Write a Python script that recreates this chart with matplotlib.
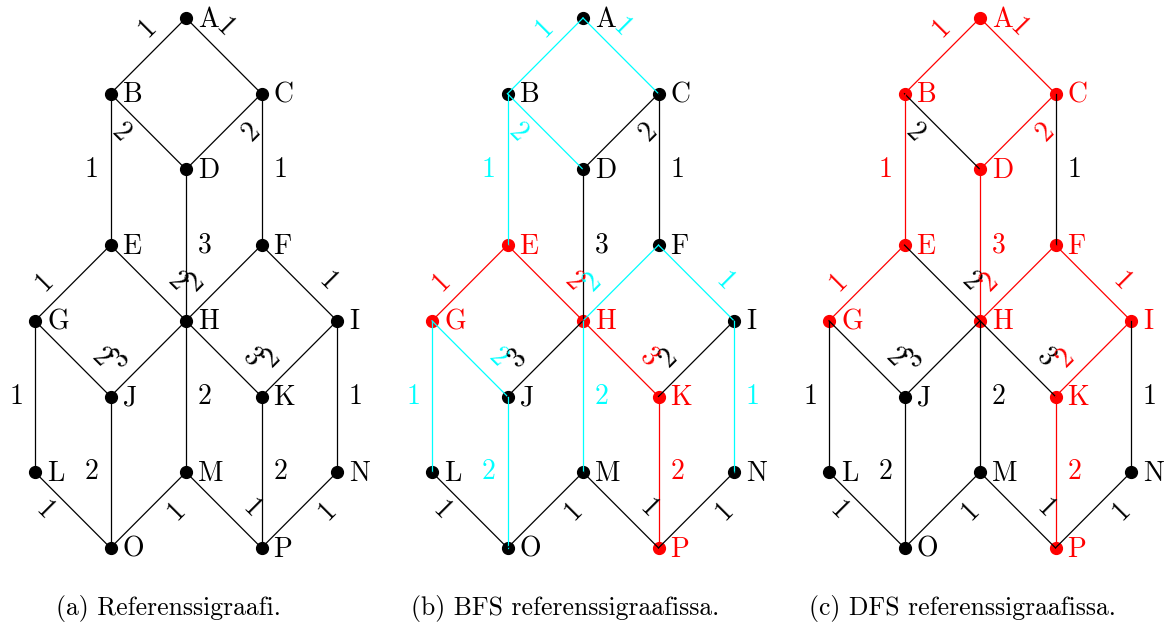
import math

import matplotlib
matplotlib.use("Agg")
import matplotlib.pyplot as plt

plt.rcParams["font.family"] = "cmr10"
plt.rcParams["axes.unicode_minus"] = False

# graph layout (grid units, y grows downward)
node_names = list("ABCDEFGHIJKLMNOP")
node_x = [2, 1, 3, 2, 1, 3, 0, 2, 4, 1, 3, 0, 2, 4, 1, 3]
node_y = [0, 1, 1, 2, 3, 3, 4, 4, 4, 5, 5, 6, 6, 6, 7, 7]

# edges: label sits near edge_from
edge_from = ["A", "A", "B", "C", "B", "C", "D", "G", "H", "H", "I", "J",
             "J", "K", "K", "G", "H", "I", "J", "K", "L", "M", "P", "N"]
edge_to = ["B", "C", "D", "D", "E", "F", "H", "E", "E", "F", "F", "G",
           "H", "H", "I", "L", "M", "N", "O", "P", "O", "O", "M", "P"]
edge_weight = [1, 1, 2, 2, 1, 1, 3, 1, 2, 2, 1, 2, 3, 3, 2, 1, 2, 1, 2, 2, 1, 1, 1, 1]
label_side = [-1, 1, -1, 1, -1, 1, 1, 1, -1, 1, -1, -1, 1, -1, 1, -1, 1, 1, -1, 1, -1, 1, -1, 1]

# edge states per panel: 0 plain, 1 visited (cyan), 2 path (red)
ref_edges = [0] * 24
bfs_edges = [1, 1, 1, 0, 1, 0, 0, 2, 2, 1, 1, 1, 0, 2, 0, 1, 1, 1, 1, 2, 0, 0, 0, 0]
dfs_edges = [2, 2, 0, 2, 2, 0, 2, 2, 0, 2, 2, 0, 0, 0, 2, 0, 0, 0, 0, 2, 0, 0, 0, 0]

ref_nodes = []
bfs_nodes = ["E", "G", "H", "K", "P"]
dfs_nodes = ["A", "B", "C", "D", "E", "F", "G", "H", "I", "K", "P"]

captions = ["(a) Referenssigraafi.", "(b) BFS referenssigraafissa.",
            "(c) DFS referenssigraafissa."]

COLORS = {0: "black", 1: "#00ffff", 2: "#ff0000"}

# pixel geometry of the reference
UNIT_X, UNIT_Y = 75.5, 75.7
ORIGIN_X, ORIGIN_Y = 35, 18
PANEL_PX = 397
PANEL_SHIFT = PANEL_PX / UNIT_X
CAPTION_X0, CAPTION_Y = 168, 608

pos = {n: (x, y) for n, x, y in zip(node_names, node_x, node_y)}

fig = plt.figure(figsize=(11.76, 6.31), dpi=100)
ax = fig.add_axes([0, 0, 1, 1])
ax.set_xlim(-ORIGIN_X / UNIT_X, (1176 - ORIGIN_X) / UNIT_X)
ax.set_ylim((631 - ORIGIN_Y) / UNIT_Y, -ORIGIN_Y / UNIT_Y)
ax.axis("off")


def draw_panel(shift, edge_state, red_nodes):
    # nodes first, edges drawn over them
    for n in node_names:
        x, y = pos[n]
        c = COLORS[2] if n in red_nodes else "black"
        ax.plot(x + shift, y, "o", color=c, markersize=8.5, zorder=2)
        ax.text(x + shift + 0.16, y + 0.02, n, color=c, fontsize=20,
                ha="left", va="center", zorder=4)

    for u, v, w, side, st in zip(edge_from, edge_to, edge_weight, label_side, edge_state):
        (xu, yu), (xv, yv) = pos[u], pos[v]
        c = COLORS[st]
        ax.plot([xu + shift, xv + shift], [yu, yv], color=c, lw=0.9, zorder=3)

        dx, dy_up = xv - xu, -(yv - yu)
        length = math.hypot(dx, dy_up)
        nx, ny = -dy_up / length, -dx / length  # left normal, y-down coords
        if dx == 0:
            t, off, rot = 0.5, 0.25, 0
        else:
            t, off = 0.32, 0.27
            rot = math.degrees(math.atan2(dy_up, dx))
            if rot > 90:
                rot -= 180
            elif rot <= -90:
                rot += 180
        lx = xu + t * (xv - xu) + side * off * nx
        ly = yu + t * (yv - yu) + side * off * ny
        ax.text(lx + shift, ly, str(w), color=c, fontsize=20, rotation=rot,
                rotation_mode="anchor", ha="center", va="center", zorder=4)


draw_panel(0, ref_edges, ref_nodes)
draw_panel(PANEL_SHIFT, bfs_edges, bfs_nodes)
draw_panel(2 * PANEL_SHIFT, dfs_edges, dfs_nodes)

for i, cap in enumerate(captions):
    cx = CAPTION_X0 + i * PANEL_PX
    fig.text(cx / 1176, 1 - CAPTION_Y / 631, cap, fontsize=18.5,
             ha="center", va="center")

fig.savefig("out.png", dpi=100)
